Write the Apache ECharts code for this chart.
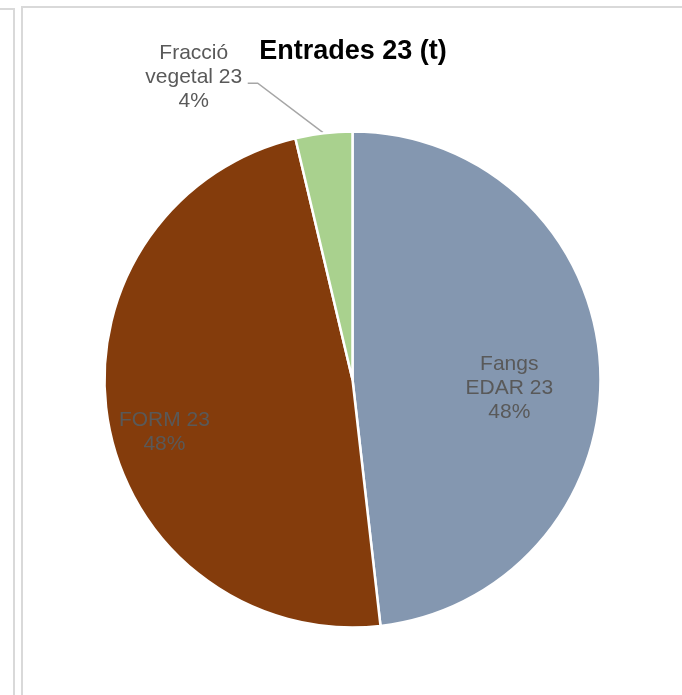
<!DOCTYPE html>
<html>
<head>
<meta charset="utf-8">
<script src="https://cdn.jsdelivr.net/npm/echarts@6/dist/echarts.min.js"></script>
<style>
html,body{margin:0;padding:0;background:#fff;}
#chart{width:682px;height:695px;}
</style>
</head>
<body>
<div id="chart"></div>
<script>
// ---- data ----
var titleText = 'Entrades 23 (t)';
var categories = ['Fangs\nEDAR 23', 'FORM 23', 'Fracció\nvegetal 23'];
var values = [48.2, 48.1, 3.7];
var colors = ['#8497B0', '#843C0C', '#A9D18E'];

// label placement tweaks (offsets relative to library-computed positions)
var labelOffsets = [[30, 16], [-63, 31], null];

var chart = echarts.init(document.getElementById('chart'), null, {renderer: 'canvas'});

var data = categories.map(function (c, i) {
  var inside = labelOffsets[i] !== null;
  return {
    name: c,
    value: values[i],
    itemStyle: {color: colors[i]},
    label: {position: inside ? 'inside' : 'outside'},
    labelLine: {show: !inside}
  };
});

var option = {
  animation: false,
  backgroundColor: '#ffffff',
  title: {
    text: titleText,
    left: 348,
    textAlign: 'center',
    top: 33,
    textStyle: {
      fontFamily: 'Liberation Sans, Arial, sans-serif',
      fontWeight: 'bold',
      fontSize: 27,
      color: '#000000'
    }
  },
  graphic: [
    {type: 'polyline', shape: {points: [[0, 9], [14, 9], [14, 695]]},
     style: {stroke: '#d9d9d9', lineWidth: 2, fill: null}, silent: true},
    {type: 'polyline', shape: {points: [[22, 695], [22, 7], [682, 7]]},
     style: {stroke: '#d9d9d9', lineWidth: 2, fill: null}, silent: true}
  ],
  series: [{
    type: 'pie',
    center: [352.5, 379.5],
    radius: 248,
    startAngle: 90,
    clockwise: true,
    avoidLabelOverlap: false,
    percentPrecision: 0,
    itemStyle: {borderColor: '#ffffff', borderWidth: 2.5},
    label: {
      show: true,
      formatter: '{b}\n{d}%',
      fontFamily: 'Liberation Sans, Arial, sans-serif',
      fontSize: 21,
      lineHeight: 24,
      color: '#595959',
      align: 'center'
    },
    labelLine: {
      show: true,
      length: 40,
      length2: 10,
      smooth: false,
      lineStyle: {color: '#a6a6a6', width: 1.5}
    },
    labelLayout: function (params) {
      var off = labelOffsets[params.dataIndex];
      if (off) {
        return {dx: off[0], dy: off[1]};
      }
      var p0 = params.labelLinePoints ? params.labelLinePoints[0] : null;
      if (!p0) return {};
      return {
        x: p0[0] - 130,
        y: p0[1] - 56,
        align: 'center',
        verticalAlign: 'middle',
        labelLinePoints: [p0, [p0[0] - 66, p0[1] - 50], [p0[0] - 76, p0[1] - 50]]
      };
    },
    data: data
  }]
};

chart.setOption(option);
</script>
</body>
</html>
